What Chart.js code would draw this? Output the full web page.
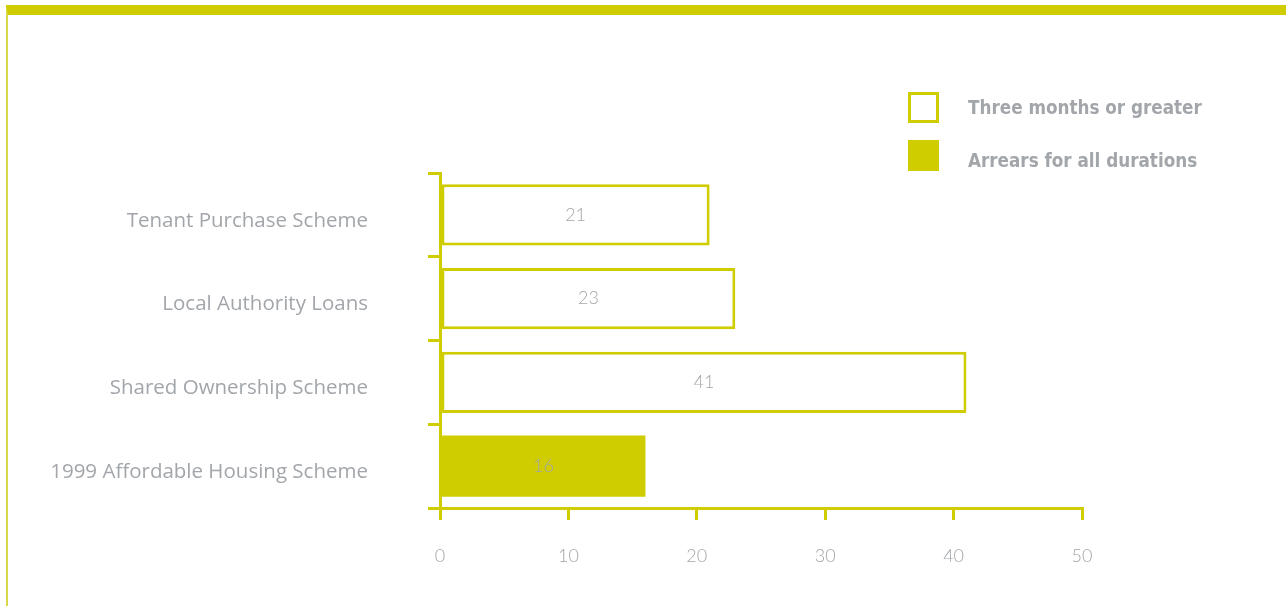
<!DOCTYPE html>
<html>
<head>
<meta charset="utf-8">
<script src="https://cdn.jsdelivr.net/npm/chart.js@4.4.1/dist/chart.umd.min.js"></script>
<style>
  html, body { margin: 0; padding: 0; background: #fff; }
  /* cornice: barra in alto e filo a sinistra */
  #cornice {
    position: absolute; left: 6px; top: 5px; width: 1280px; height: 601px;
    border-top: 10px solid #cfcd00; border-left: 2px solid #d9d84a;
    box-sizing: border-box;
  }
  #graficoArretrati { position: absolute; left: 0; top: 0; }
</style>
</head>
<body>
<div id="cornice"></div>
<canvas id="graficoArretrati" width="1286" height="606"></canvas>
<script>
// dati del grafico
const schemi = [
  "Tenant Purchase Scheme",
  "Local Authority Loans",
  "Shared Ownership Scheme",
  "1999 Affordable Housing Scheme",
];
const treMesiOPiu = [21, 23, 41, null];
const tuttiArretrati = [null, null, null, 16];
const etichetteSerie = ["Three months or greater", "Arrears for all durations"];
const tickAsseX = [0, 10, 20, 30, 40, 50];

const giallo = "#cfcd00";
const grigio = "#a2a6aa";

// scrive il valore al centro di ogni barra
const valoriBarre = {
  id: "valoriBarre",
  afterDatasetsDraw(chart) {
    const ctx = chart.ctx;
    ctx.save();
    ctx.font = "300 18px Lato";
    ctx.fillStyle = grigio;
    ctx.textAlign = "center";
    ctx.textBaseline = "middle";
    chart.data.datasets.forEach((ds, i) => {
      chart.getDatasetMeta(i).data.forEach((bar, j) => {
        if (ds.data[j] == null) return;
        const cx = (bar.x + bar.base) / 2;
        ctx.fillText(String(ds.data[j]), cx, bar.y);
      });
    });
    ctx.restore();
  },
};

// legenda verticale in alto a destra
const legendaQuadrati = {
  id: "legendaQuadrati",
  afterDraw(chart) {
    const ctx = chart.ctx;
    ctx.save();
    const x = 908;
    const righe = [107, 155];
    chart.data.datasets.forEach((ds, i) => {
      const y = righe[i];
      if (ds.backgroundColor === "#ffffff") {
        ctx.strokeStyle = giallo;
        ctx.lineWidth = 3;
        ctx.strokeRect(x + 1.5, y - 13.5, 28, 28);
      } else {
        ctx.fillStyle = giallo;
        ctx.fillRect(x, y - 15, 31, 31);
      }
      ctx.font = "bold 18.7px 'DejaVu Sans Condensed', 'DejaVu Sans'";
      ctx.fillStyle = grigio;
      ctx.textBaseline = "middle";
      ctx.fillText(ds.label, 968, i === 0 ? 109 : 162);
    });
    ctx.restore();
  },
};

const ctx = document.getElementById("graficoArretrati").getContext("2d");
const grafico = new Chart(ctx, {
  type: "bar",
  data: {
    labels: schemi,
    datasets: [
      {
        label: etichetteSerie[0],
        data: treMesiOPiu,
        backgroundColor: "#ffffff",
        borderColor: giallo,
        borderWidth: 3,
        borderSkipped: false,
      },
      {
        label: etichetteSerie[1],
        data: tuttiArretrati,
        backgroundColor: giallo,
        borderColor: giallo,
        borderWidth: 0,
      },
    ],
  },
  options: {
    indexAxis: "y",
    responsive: false,
    animation: false,
    layout: { padding: { top: 173, right: 204, left: 0, bottom: 0 } },
    datasets: { bar: { categoryPercentage: 1, barPercentage: 0.73 } },
    plugins: { legend: { display: false }, tooltip: { enabled: false } },
    scales: {
      x: {
        stacked: true,
        min: 0,
        max: 50,
        afterBuildTicks: (s) => { s.ticks = tickAsseX.map((v) => ({ value: v })); },
        afterFit: (s) => { s.height = 98; },
        border: { display: true, color: giallo, width: 3 },
        grid: { drawOnChartArea: false, drawTicks: true, tickLength: 12, color: giallo, lineWidth: 3 },
        ticks: { color: grigio, font: { family: "Lato", size: 18, weight: 300 }, padding: 25 },
      },
      y: {
        stacked: true,
        afterFit: (s) => { s.width = 440; },
        border: { display: true, color: giallo, width: 3 },
        grid: { offset: true, drawOnChartArea: false, drawTicks: true, tickLength: 12, color: giallo, lineWidth: 3 },
        ticks: { color: grigio, font: { family: "Open Sans", size: 20.5 }, padding: 60, labelOffset: 6 },
      },
    },
  },
  plugins: [valoriBarre, legendaQuadrati],
});
</script>
</body>
</html>
